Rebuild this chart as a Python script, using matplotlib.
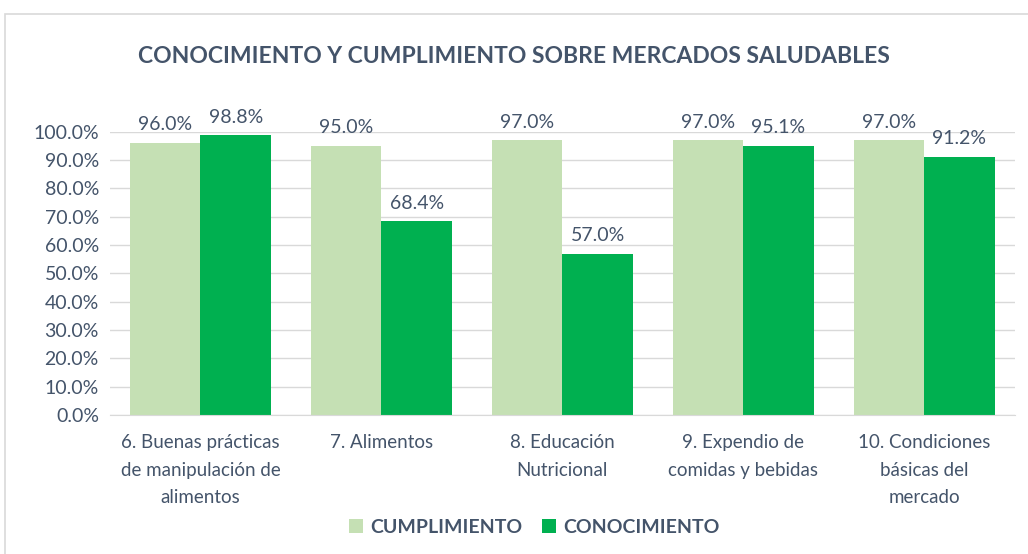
import numpy as np
import matplotlib.pyplot as plt
from matplotlib.patches import Rectangle
from matplotlib.ticker import PercentFormatter

categories = [
    "6. Buenas prácticas\nde manipulación de\nalimentos",
    "7. Alimentos",
    "8. Educación\nNutricional",
    "9. Expendio de\ncomidas y bebidas",
    "10. Condiciones\nbásicas del\nmercado",
]
cumplimiento = [96.0, 95.0, 97.0, 97.0, 97.0]
conocimiento = [98.8, 68.4, 57.0, 95.1, 91.2]

TEXT = "#44546A"
plt.rcParams["font.family"] = ["Lato", "DejaVu Sans"]

fig = plt.figure(figsize=(10.28, 5.54), dpi=100)
ax = fig.add_axes([0.107, 0.251, 0.880, 0.511])

# chart frame like the spreadsheet chart area
fig.patches.append(Rectangle((5 / 1028, -0.05), 1.1, 1 - 14 / 554 + 0.05,
                             transform=fig.transFigure, fill=False,
                             edgecolor="#D9D9D9", linewidth=1.2))

x = np.arange(len(categories))
w = 0.39
b1 = ax.bar(x - w / 2, cumplimiento, w, color="#C5E0B4", label="CUMPLIMIENTO", zorder=2)
b2 = ax.bar(x + w / 2, conocimiento, w, color="#00B050", label="CONOCIMIENTO", zorder=2)

for bars in (b1, b2):
    for r in bars:
        ax.annotate(f"{r.get_height():.1f}%", (r.get_x() + r.get_width() / 2, r.get_height()),
                    xytext=(0, 7), textcoords="offset points", ha="center", va="bottom",
                    fontsize=14, color=TEXT, annotation_clip=False)

ax.set_xlim(-0.5, len(categories) - 0.5)
ax.set_ylim(0, 100)
ax.set_yticks(np.arange(0, 101, 10))
ax.yaxis.set_major_formatter(PercentFormatter(decimals=1))
ax.yaxis.grid(True, color="#D9D9D9", linewidth=1, zorder=0)
ax.set_axisbelow(True)
for s in ("top", "right", "left"):
    ax.spines[s].set_visible(False)
ax.spines["bottom"].set_color("#D9D9D9")
ax.tick_params(axis="both", length=0, labelcolor=TEXT)
ax.tick_params(axis="y", pad=8, labelsize=14)
ax.tick_params(axis="x", pad=14, labelsize=13.5)
ax.set_xticks(x)
ax.set_xticklabels(categories, linespacing=1.75)

fig.text(0.5, 0.898, "CONOCIMIENTO Y CUMPLIMIENTO SOBRE MERCADOS SALUDABLES",
         ha="center", va="center", fontsize=16.5, fontweight="bold", color=TEXT)

fig.legend(loc="center", bbox_to_anchor=(0.52, 0.048), ncol=2, frameon=False,
           labelcolor=TEXT, handlelength=0.7, handleheight=0.7,
           handletextpad=0.4, columnspacing=1.0,
           prop={"weight": "bold", "size": 14})

fig.savefig("out.png", dpi=100)
